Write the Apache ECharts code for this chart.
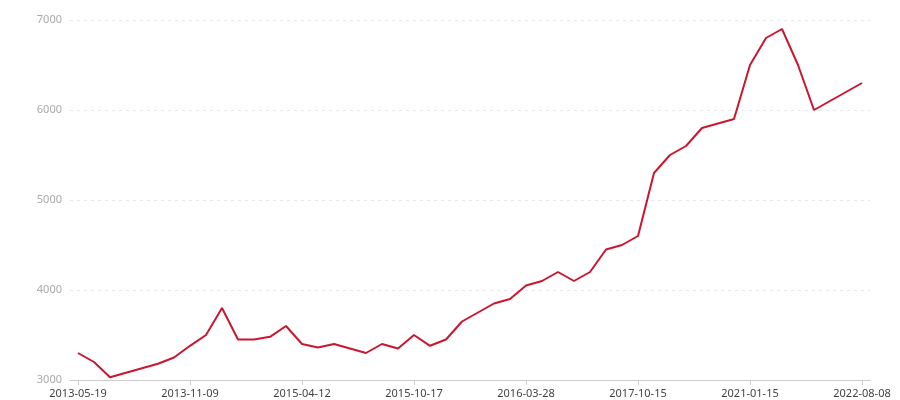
<!DOCTYPE html>
<html>
<head>
<meta charset="utf-8">
<script src="https://cdn.jsdelivr.net/npm/echarts@6/dist/echarts.min.js"></script>
<style>html,body{margin:0;padding:0;background:#fff}#c{width:900px;height:400px}</style>
</head>
<body>
<div id="c"></div>
<script>
var categories = [
  '2013-05-19','2013-06-12','2013-07-06','2013-07-30','2013-08-23','2013-09-16','2013-10-12',
  '2013-11-09','2014-01-20','2014-04-02','2014-06-14','2014-08-25','2014-11-06','2015-01-20',
  '2015-04-12','2015-05-08','2015-06-03','2015-06-29','2015-07-25','2015-08-20','2015-09-18',
  '2015-10-17','2015-11-08','2015-11-30','2015-12-22','2016-01-13','2016-02-04','2016-03-02',
  '2016-03-28','2016-06-28','2016-09-28','2016-12-28','2017-03-28','2017-06-28','2017-08-28',
  '2017-10-15','2018-03-15','2018-08-15','2019-01-15','2019-06-15','2019-11-15','2020-06-15',
  '2021-01-15','2021-03-25','2021-06-02','2021-08-10','2021-10-18','2022-01-10','2022-05-20',
  '2022-08-08'
];
var values = [
  3300, 3200, 3030, 3080, 3130, 3180, 3250,
  3380, 3500, 3800, 3450, 3450, 3480, 3600,
  3400, 3360, 3400, 3350, 3300, 3400, 3350,
  3500, 3380, 3450, 3650, 3750, 3850, 3900,
  4050, 4100, 4200, 4100, 4200, 4450, 4500,
  4600, 5300, 5500, 5600, 5800, 5850, 5900,
  6500, 6800, 6900, 6500, 6000, 6100, 6200,
  6300
];
var yMin = 3000, yMax = 7000, yInterval = 1000;
</script>
<script>
var chart = echarts.init(document.getElementById('c'));
chart.setOption({
  animation: false,
  textStyle: {fontFamily: '"Noto Sans", sans-serif'},
  grid: {left: 70, right: 30, top: 20, bottom: 20},
  xAxis: {
    type: 'category',
    data: categories,
    boundaryGap: true,
    axisLine: {lineStyle: {color: '#ccc'}},
    axisTick: {show: true, alignWithLabel: true, interval: 6, lineStyle: {color: '#ccc'}},
    axisLabel: {interval: 6, color: '#444', fontSize: 11, margin: 8}
  },
  yAxis: {
    type: 'value',
    min: yMin, max: yMax, interval: yInterval,
    axisLine: {show: false},
    axisTick: {show: false},
    axisLabel: {color: '#aaa', fontSize: 11, margin: 8, formatter: function (v) { return String(v); }},
    splitLine: {lineStyle: {color: '#e8e8e8', type: [3, 4]}}
  },
  series: [{
    type: 'line',
    data: values,
    showSymbol: false,
    symbol: 'none',
    lineStyle: {color: '#c8172e', width: 2},
    itemStyle: {color: '#c8172e'}
  }]
});
</script>
</body>
</html>
